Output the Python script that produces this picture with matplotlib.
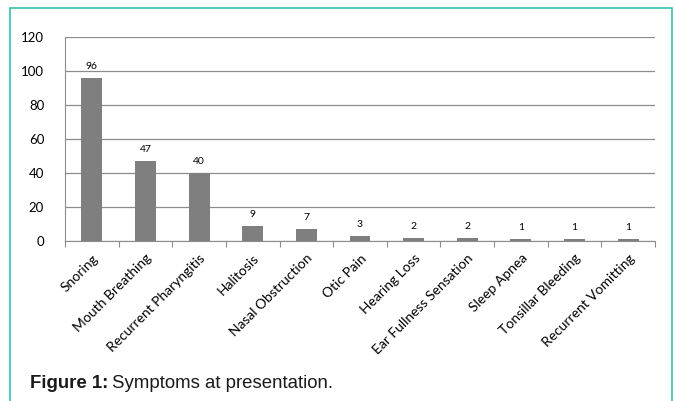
import matplotlib
matplotlib.use("Agg")
import matplotlib.pyplot as plt
from matplotlib.patches import Rectangle

symptoms = ["Snoring", "Mouth Breathing", "Recurrent Pharyngitis", "Halitosis",
            "Nasal Obstruction", "Otic Pain", "Hearing Loss",
            "Ear Fullness Sensation", "Sleep Apnea", "Tonsillar Bleeding",
            "Recurrent Vomitting"]
counts = [96, 47, 40, 9, 7, 3, 2, 2, 1, 1, 1]
yticks = [0, 20, 40, 60, 80, 100, 120]

W, H = 675, 401
fig = plt.figure(figsize=(W / 100, H / 100), dpi=100)

# teal frame round the figure panel
fig.patches.append(Rectangle((10 / W, -0.05), 662 / W, (H - 8) / H + 0.05,
                             transform=fig.transFigure, fill=False,
                             edgecolor="#33c3ad", linewidth=1.2))

ax = fig.add_axes([65 / W, 160 / H, 590 / W, 204 / H])
x = range(len(symptoms))
ax.bar(x, counts, width=0.39, color="#7f7f7f", zorder=3)
for xi, c in zip(x, counts):
    ax.annotate(str(c), (xi, c), xytext=(0, 5), textcoords="offset points",
                ha="center", va="bottom", fontsize=7.5, family="Lato")

ax.set_xlim(-0.5, len(symptoms) - 0.5)
ax.set_ylim(0, 120)
ax.set_yticks(yticks)
ax.set_yticklabels([str(v) for v in yticks], fontsize=9.5, family="Lato")
ax.yaxis.grid(True, color="#8c8c8c", linewidth=0.9, zorder=0)
ax.tick_params(axis="y", length=0, pad=15)

ax.set_xticks([i - 0.5 for i in range(len(symptoms) + 1)], minor=False)
ax.set_xticklabels([])
ax.set_xticks(list(x), minor=True)
ax.set_xticklabels(symptoms, minor=True, rotation=45, ha="right",
                   rotation_mode="anchor", fontsize=10, family="Lato")
ax.tick_params(axis="x", which="major", length=4, color="#8c8c8c", direction="out")
ax.tick_params(axis="x", which="minor", length=0, pad=8)

for s in ("top", "right"):
    ax.spines[s].set_visible(False)
ax.spines["left"].set_color("#8c8c8c")
ax.spines["bottom"].set_color("#8c8c8c")

t = fig.text(30 / W, 1 - 383 / H, "Figure 1:", fontsize=13.4, weight="bold",
             family="Liberation Sans", va="center", ha="left", color="#1a1a1a")
fig.canvas.draw()
bb = t.get_window_extent()
fig.text((bb.x1 + 4) / W, 1 - 383 / H, "Symptoms at presentation.",
         fontsize=13.4, family="Liberation Sans", va="center", ha="left",
         color="#1a1a1a")

fig.savefig("out.png", dpi=100)
